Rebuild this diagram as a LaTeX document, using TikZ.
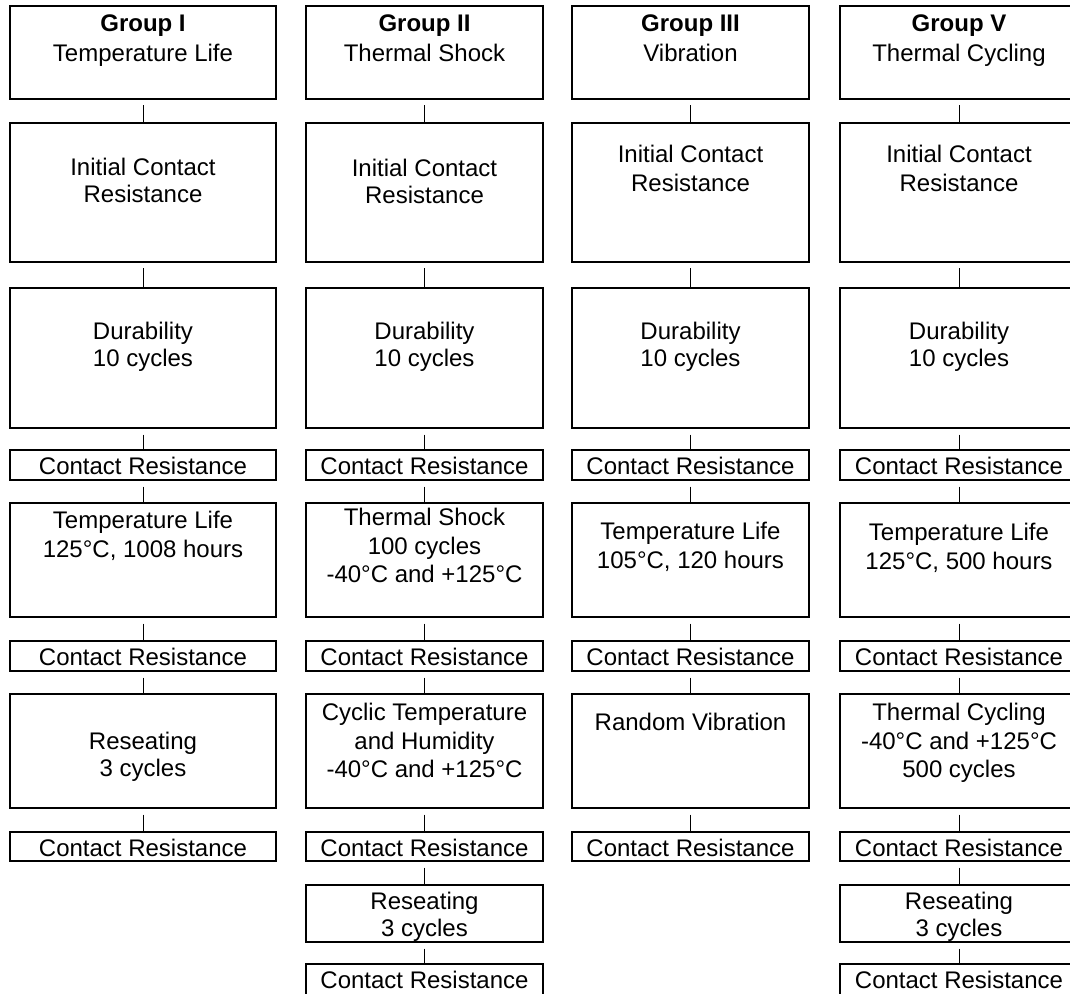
\documentclass[tikz,border=0pt]{standalone}
\usepackage{fontspec}
\setmainfont{Liberation Sans}
\usetikzlibrary{fit}
\begin{document}
\begin{tikzpicture}[x=0.5pt,y=-0.5pt,
  box/.style={draw, line width=1pt, inner sep=0pt},
  txt/.style={anchor=north, inner sep=0pt, align=center, font=\fontsize{12}{13.5}\selectfont},
  txtb/.style={txt, font=\fontsize{12}{14.25}\selectfont},
  txtg/.style={txt, font=\fontsize{12}{15}\selectfont},
  link/.style={line width=0.5pt}]
\useasboundingbox (0,0) rectangle (1070,994);
\clip (0,0) rectangle (1070,994);
% ---------------- Column 1
\node[box, fit={(10,6)(276,99)}] (a1) {};
\node[txtg] (a1t) at (143,14) {\textbf{Group I}\\Temperature Life};
\node[box, fit={(10,123)(276,262)}] (a2) {};
\node[txt] (a2t) at (143,158) {Initial Contact\\Resistance};
\node[box, fit={(10,288)(276,428)}] (a3) {};
\node[txt] (a3t) at (143,322) {Durability\\10 cycles};
\node[box, fit={(10,450)(276,480)}] (a4) {};
\node[txt] (a4t) at (143,457) {Contact Resistance};
\node[box, fit={(10,503)(276,617)}] (a5) {};
\node[txtb] (a5t) at (143,511) {Temperature Life\\125°C, 1008 hours};
\node[box, fit={(10,641)(276,671)}] (a6) {};
\node[txt] (a6t) at (143,648) {Contact Resistance};
\node[box, fit={(10,694)(276,808)}] (a7) {};
\node[txt] (a7t) at (143,732) {Reseating\\3 cycles};
\node[box, fit={(10,832)(276,861)}] (a8) {};
\node[txt] (a8t) at (143,839) {Contact Resistance};
% ---------------- Column 2
\node[box, fit={(306,6)(543,99)}] (b1) {};
\node[txtg] (b1t) at (424.5,14) {\textbf{Group II}\\Thermal Shock};
\node[box, fit={(306,123)(543,262)}] (b2) {};
\node[txt] (b2t) at (424.5,159) {Initial Contact\\Resistance};
\node[box, fit={(306,288)(543,428)}] (b3) {};
\node[txt] (b3t) at (424.5,322) {Durability\\10 cycles};
\node[box, fit={(306,450)(543,480)}] (b4) {};
\node[txt] (b4t) at (424.5,457) {Contact Resistance};
\node[box, fit={(306,503)(543,617)}] (b5) {};
\node[txtb] (b5t) at (424.5,508) {Thermal Shock\\100 cycles\\-40°C and +125°C};
\node[box, fit={(306,641)(543,671)}] (b6) {};
\node[txt] (b6t) at (424.5,648) {Contact Resistance};
\node[box, fit={(306,694)(543,808)}] (b7) {};
\node[txtb] (b7t) at (424.5,703) {Cyclic Temperature\\and Humidity\\-40°C and +125°C};
\node[box, fit={(306,832)(543,861)}] (b8) {};
\node[txt] (b8t) at (424.5,839) {Contact Resistance};
\node[box, fit={(306,885)(543,942)}] (b9) {};
\node[txt] (b9t) at (424.5,892) {Reseating\\3 cycles};
\node[box, fit={(306,964)(543,997)}] (b10) {};
\node[txt] (b10t) at (424.5,971) {Contact Resistance};
% ---------------- Column 3
\node[box, fit={(572,6)(809,99)}] (c1) {};
\node[txtg] (c1t) at (690.5,14) {\textbf{Group III}\\Vibration};
\node[box, fit={(572,123)(809,262)}] (c2) {};
\node[txtb] (c2t) at (690.5,145) {Initial Contact\\Resistance};
\node[box, fit={(572,288)(809,428)}] (c3) {};
\node[txt] (c3t) at (690.5,322) {Durability\\10 cycles};
\node[box, fit={(572,450)(809,480)}] (c4) {};
\node[txt] (c4t) at (690.5,457) {Contact Resistance};
\node[box, fit={(572,503)(809,617)}] (c5) {};
\node[txtb] (c5t) at (690.5,522) {Temperature Life\\105°C, 120 hours};
\node[box, fit={(572,641)(809,671)}] (c6) {};
\node[txt] (c6t) at (690.5,648) {Contact Resistance};
\node[box, fit={(572,694)(809,808)}] (c7) {};
\node[txt] (c7t) at (690.5,713) {Random Vibration};
\node[box, fit={(572,832)(809,861)}] (c8) {};
\node[txt] (c8t) at (690.5,839) {Contact Resistance};
% ---------------- Column 4
\node[box, fit={(840,6)(1078,99)}] (d1) {};
\node[txtg] (d1t) at (959,14) {\textbf{Group V}\\Thermal Cycling};
\node[box, fit={(840,123)(1078,262)}] (d2) {};
\node[txtb] (d2t) at (959,145) {Initial Contact\\Resistance};
\node[box, fit={(840,288)(1078,428)}] (d3) {};
\node[txt] (d3t) at (959,322) {Durability\\10 cycles};
\node[box, fit={(840,450)(1078,480)}] (d4) {};
\node[txt] (d4t) at (959,457) {Contact Resistance};
\node[box, fit={(840,503)(1078,617)}] (d5) {};
\node[txtb] (d5t) at (959,523) {Temperature Life\\125°C, 500 hours};
\node[box, fit={(840,641)(1078,671)}] (d6) {};
\node[txt] (d6t) at (959,648) {Contact Resistance};
\node[box, fit={(840,694)(1078,808)}] (d7) {};
\node[txtb] (d7t) at (959,703) {Thermal Cycling\\-40°C and +125°C\\500 cycles};
\node[box, fit={(840,832)(1078,861)}] (d8) {};
\node[txt] (d8t) at (959,839) {Contact Resistance};
\node[box, fit={(840,885)(1078,942)}] (d9) {};
\node[txt] (d9t) at (959,892) {Reseating\\3 cycles};
\node[box, fit={(840,964)(1078,997)}] (d10) {};
\node[txt] (d10t) at (959,971) {Contact Resistance};
% ---------------- connectors
\foreach \c/\n in {a/8, b/10, c/8, d/10} {
  \foreach \i [evaluate=\i as \j using int(\i+1)] in {1,...,\n} {
    \ifnum\i<\n
      \draw[link] ([yshift=-2.75pt]\c\i.south) -- (\c\j.north);
    \fi
  }
}
\end{tikzpicture}
\end{document}
